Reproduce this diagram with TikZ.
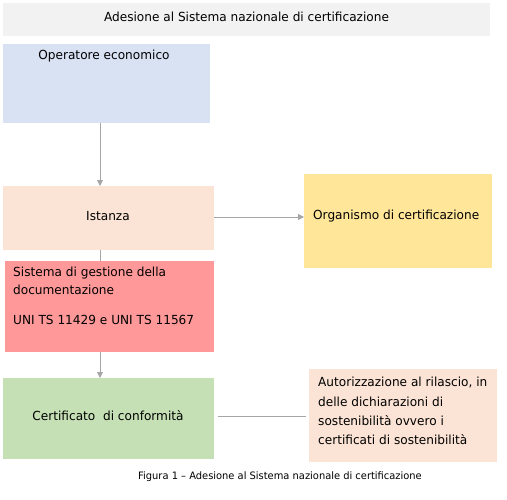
\documentclass[tikz,border=0pt]{standalone}
\usepackage{fontspec}
\setmainfont{DejaVu Sans}[FakeStretch=0.97]
\newfontfamily\capfont{DejaVu Sans}[FakeStretch=0.97]
\usetikzlibrary{arrows.meta}
\definecolor{titlebg}{HTML}{F2F2F2}
\definecolor{opbg}{HTML}{D9E2F3}
\definecolor{istbg}{HTML}{FBE4D5}
\definecolor{orgbg}{HTML}{FFE699}
\definecolor{sisbg}{HTML}{FF9999}
\definecolor{certbg}{HTML}{C5E0B4}
\definecolor{linegray}{HTML}{A6A6A6}
\tikzset{
  box/.style={rectangle, draw=none, inner sep=0pt, anchor=north west},
  txt/.style={inner sep=0pt, font=\fontsize{12.5}{18}\selectfont},
  conn/.style={draw=linegray, line width=0.9pt},
  arr/.style={conn, -{Triangle[length=6pt,width=6pt]}},
}
\begin{document}
\begin{tikzpicture}[x=1pt,y=-1pt]
\useasboundingbox (0,0) rectangle (507,499);
% boxes
\node[box, fill=titlebg, minimum width=487pt, minimum height=33pt] (title) at (3,3) {};
\node[box, fill=opbg, minimum width=207pt, minimum height=79pt] (op) at (3,44) {};
\node[box, fill=istbg, minimum width=211pt, minimum height=64pt] (ist) at (3,186) {};
\node[box, fill=orgbg, minimum width=188pt, minimum height=94pt] (org) at (304,174) {};
\node[box, fill=sisbg, minimum width=209pt, minimum height=91pt] (sis) at (5,261) {};
\node[box, fill=certbg, minimum width=211pt, minimum height=81pt] (cert) at (3,378) {};
\node[box, fill=istbg, minimum width=188pt, minimum height=93pt] (aut) at (309,369) {};
% texts
\node[txt] (titletxt) at (246.5,17) {Adesione al Sistema nazionale di certificazione};
\node[txt] (optxt) at (104,56) {Operatore economico};
\node[txt] (isttxt) at (108,216) {Istanza};
\node[txt, anchor=west] (orgtxt) at (313,216) {Organismo di certificazione};
\node[txt, anchor=north west, align=left] (sistxt1) at (13,267) {Sistema di gestione della\\documentazione};
\node[txt, anchor=west] (sistxt2) at (13,320) {UNI TS 11429 e UNI TS 11567};
\node[txt] (certtxt) at (108,416) {Certificato\ \ di conformità};
\node[txt, anchor=north west, align=left, font=\fontsize{12.5}{19.4}\selectfont] (auttxt) at (318,377) {Autorizzazione al rilascio, in\\delle dichiarazioni di\\sostenibilità ovvero i\\certificati di sostenibilità};
\node[inner sep=0pt, font=\capfont\fontsize{10.2}{13}\selectfont] (caption) at (280,477) {Figura 1 – Adesione al Sistema nazionale di certificazione};
% connectors
\coordinate (a1) at (100,123);
\coordinate (a2) at (100,186);
\draw[arr] (a1) -- (a2);
\coordinate (b1) at (214,217);
\coordinate (b2) at (304,217);
\draw[arr] (b1) -- (b2);
\coordinate (c1) at (100,250);
\coordinate (c2) at (100,261);
\draw[conn] (c1) -- (c2);
\coordinate (d1) at (100,352);
\coordinate (d2) at (100,378);
\draw[arr] (d1) -- (d2);
\coordinate (e1) at (218,416);
\coordinate (e2) at (306,416);
\draw[conn] (e1) -- (e2);
\end{tikzpicture}
\end{document}
